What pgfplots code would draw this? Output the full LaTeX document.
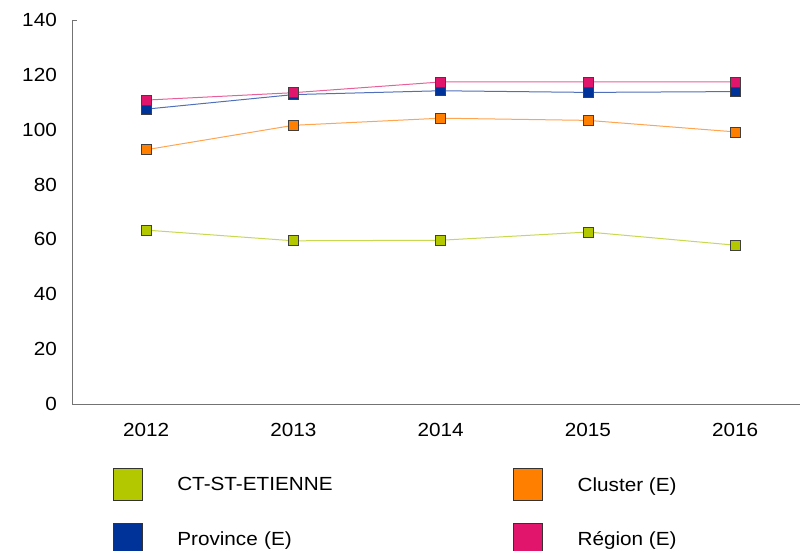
\documentclass[border=0pt]{standalone}
\usepackage{fontspec}
\setmainfont{Liberation Sans}[FakeStretch=1.09]
\usepackage{pgfplots}
\pgfplotsset{compat=1.18}
\definecolor{ctF}{HTML}{B4C800}
\definecolor{ctL}{HTML}{C8D850}
\definecolor{clF}{HTML}{FF7F00}
\definecolor{clL}{HTML}{FFA550}
\definecolor{prF}{HTML}{003399}
\definecolor{prL}{HTML}{5070BB}
\definecolor{reF}{HTML}{E0156B}
\definecolor{reL}{HTML}{E8609A}
\begin{document}
\begin{tikzpicture}
\useasboundingbox (0,0) rectangle (809pt,551pt);
\begin{axis}[
  at={(72pt,147pt)}, anchor=south west,
  scale only axis, width=728pt, height=384pt,
  xmin=2011.497, xmax=2016.44, ymin=0, ymax=140,
  xtick={2012,2013,2014,2015,2016},
  xticklabels={2012,2013,2014,2015,2016},
  ytick={0,20,40,60,80,100,120,140},
  axis x line*=bottom, axis y line*=left,
  axis line style={-, draw=black!55, line width=0.8pt},
  major tick length=0pt,
  extra y ticks={140}, extra y tick labels={},
  extra y tick style={major tick length=5pt, tick style={draw=black!55, line width=0.8pt}},
  tick label style={font=\fontsize{19}{22}\selectfont, inner sep=0pt},
  /pgf/number format/assume math mode=true,
  yticklabel style={xshift=-15pt},
  xticklabel style={yshift=-19pt},
  legend columns=2,
  legend style={at={(0.0563,-0.1667)}, anchor=north west, draw=none, fill=none,
    inner sep=0pt, outer sep=0pt, row sep=22pt, column sep=0pt,
    font=\fontsize{19}{22}\selectfont,
    nodes={inner sep=0pt, text depth=0pt, anchor=west},
    /tikz/column 2/.style={text width=336pt}},
  legend cell align=left,
]
\addplot[color=ctL, line width=1pt, mark=square*, mark size=5pt,
  mark options={fill=ctF, draw=black!75, line width=0.7pt},
  legend image code/.code={\path[draw=none, fill=none] (0pt,0pt) rectangle (64pt,1pt); \fill[ctF, draw=black!80, line width=0.6pt] (0pt,-16pt) rectangle (29pt,16pt);}]
  coordinates {(2012,63.4) (2013,59.5) (2014,59.7) (2015,62.7) (2016,57.9)};
\addlegendentry{CT-ST-ETIENNE}
\addplot[color=clL, line width=1pt, mark=square*, mark size=5pt,
  mark options={fill=clF, draw=black!75, line width=0.7pt},
  legend image code/.code={\path[draw=none, fill=none] (0pt,0pt) rectangle (64pt,1pt); \fill[clF, draw=black!80, line width=0.6pt] (0pt,-16pt) rectangle (29pt,16pt);}]
  coordinates {(2012,92.7) (2013,101.6) (2014,104.2) (2015,103.4) (2016,99.2)};
\addlegendentry{Cluster (E)}
\addplot[color=prL, line width=1pt, mark=square*, mark size=5pt,
  mark options={fill=prF, draw=black!75, line width=0.7pt},
  legend image code/.code={\path[draw=none, fill=none] (0pt,0pt) rectangle (64pt,1pt); \fill[prF, draw=black!80, line width=0.6pt] (0pt,-16pt) rectangle (29pt,16pt);}]
  coordinates {(2012,107.5) (2013,112.8) (2014,114.2) (2015,113.6) (2016,113.9)};
\addlegendentry{Province (E)}
\addplot[color=reL, line width=1pt, mark=square*, mark size=5pt,
  mark options={fill=reF, draw=black!75, line width=0.7pt},
  legend image code/.code={\path[draw=none, fill=none] (0pt,0pt) rectangle (64pt,1pt); \fill[reF, draw=black!80, line width=0.6pt] (0pt,-16pt) rectangle (29pt,16pt);}]
  coordinates {(2012,110.8) (2013,113.5) (2014,117.4) (2015,117.4) (2016,117.4)};
\addlegendentry{Région (E)}
\end{axis}
\end{tikzpicture}
\end{document}
